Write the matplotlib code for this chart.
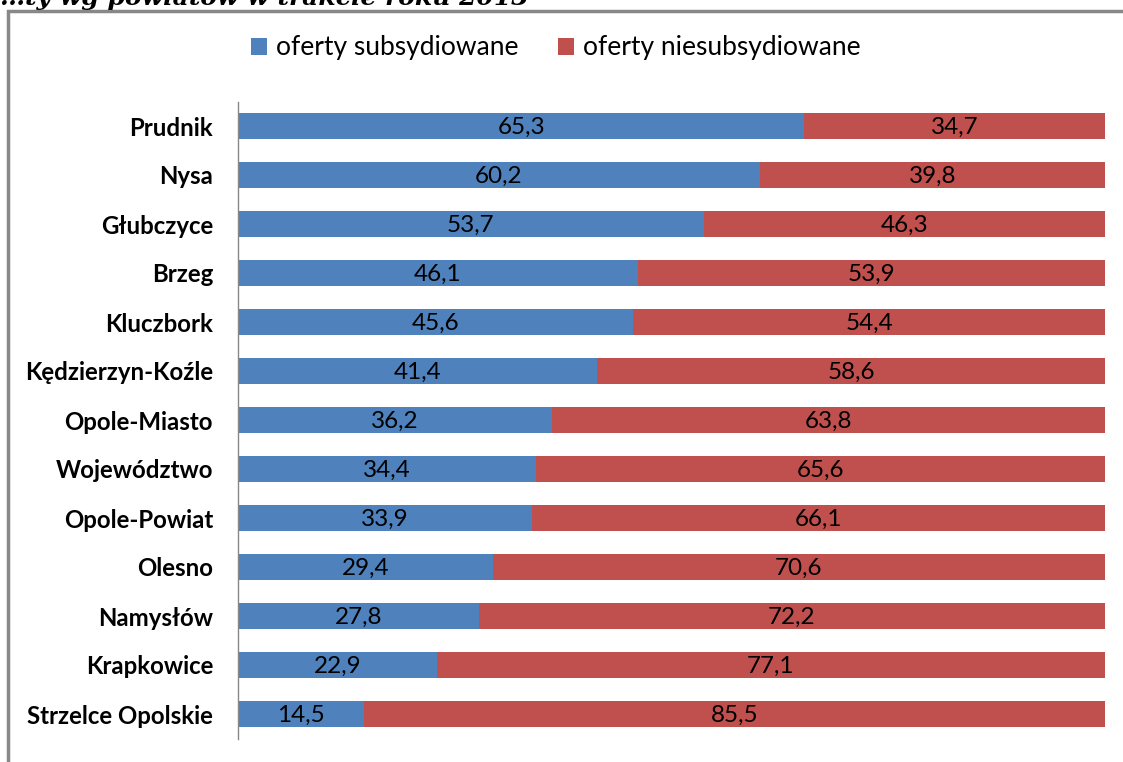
import matplotlib
matplotlib.use("Agg")
import matplotlib.pyplot as plt
from matplotlib.patches import Rectangle

categories = ["Prudnik", "Nysa", "Głubczyce", "Brzeg", "Kluczbork", "Kędzierzyn-Koźle",
              "Opole-Miasto", "Województwo", "Opole-Powiat", "Olesno", "Namysłów",
              "Krapkowice", "Strzelce Opolskie"]
subsidised = [65.3, 60.2, 53.7, 46.1, 45.6, 41.4, 36.2, 34.4, 33.9, 29.4, 27.8, 22.9, 14.5]
unsubsidised = [34.7, 39.8, 46.3, 53.9, 54.4, 58.6, 63.8, 65.6, 66.1, 70.6, 72.2, 77.1, 85.5]
series_names = ["oferty subsydiowane", "oferty niesubsydiowane"]
title_text = "…ty wg powiatów w trakcie roku 2013"

BLUE = "#4F81BD"
RED = "#C0504D"
FONT = "Lato"

fig = plt.figure(figsize=(11.23, 7.62), dpi=100)
W, H = 1123, 762

# outer chart frame (partially cropped)
fig.patches.append(Rectangle((8 / W, -0.05), 1.2, 1 - 11 / H + 0.05, transform=fig.transFigure,
                             fill=False, edgecolor="#888888", linewidth=2.5))
fig.text(0.0, 1.003, title_text, ha="left", va="center", fontsize=18, fontstyle="italic",
         fontweight="bold", family="DejaVu Serif")

ax = fig.add_axes([238 / W, 1 - 738.5 / H, (1105 - 238) / W, (738.5 - 101.5) / H])
y = list(range(len(categories)))
ax.barh(y, subsidised, height=0.52, color=BLUE, label=series_names[0])
ax.barh(y, unsubsidised, left=subsidised, height=0.52, color=RED, label=series_names[1])

for i, (a, b) in enumerate(zip(subsidised, unsubsidised)):
    ax.text(a / 2, i + 0.03, f"{a:.1f}".replace(".", ","), ha="center", va="center",
            fontsize=17.5, family=FONT, color="black")
    ax.text(a + b / 2, i + 0.03, f"{b:.1f}".replace(".", ","), ha="center", va="center",
            fontsize=17.5, family=FONT, color="black")

ax.set_ylim(len(categories) - 0.5, -0.5)
ax.set_xlim(0, 100)
ax.set_yticks(y)
ax.set_yticklabels(categories, fontsize=17.3, fontweight="bold", family=FONT)
ax.tick_params(axis="y", length=0, pad=18)
ax.set_xticks([])
for s in ["top", "right", "bottom"]:
    ax.spines[s].set_visible(False)
ax.spines["left"].set_color("#888888")
ax.spines["left"].set_linewidth(1)

fig.legend(loc="center", bbox_to_anchor=(556 / W, 1 - 48 / H), ncol=2, frameon=False,
           prop={"family": FONT, "size": 19}, handlelength=0.6, handleheight=0.6,
           columnspacing=1.5, handletextpad=0.35)

fig.savefig("out.png", dpi=100)
